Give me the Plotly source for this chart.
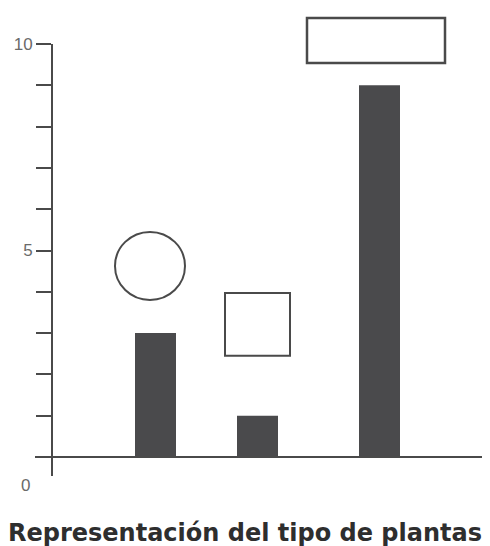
"""Representación del tipo de plantas: barras con figuras encima."""

import plotly.graph_objects as go

# Datos
bar_values = [3, 1, 9]
tick_values = list(range(0, 11))
tick_labels = ["" if v not in (5, 10) else str(v) for v in tick_values]
title_text = "Representación del tipo de plantas"

# Posiciones (en px del área de trazado) y estilos
bar_pos = [103.5, 205.5, 327.5]
BAR_W = 41
BAR_COLOR = "#4a4a4c"
LINE_COLOR = "#4a4a4a"
LABEL_COLOR = "#6a6a6a"
Y_RANGE = [-0.678, 10.872]
PLOT_W = 438

fig = go.Figure(
    go.Bar(
        x=bar_pos,
        y=bar_values,
        width=BAR_W,
        marker=dict(color=BAR_COLOR, line=dict(width=0)),
        hoverinfo="skip",
    )
)

shapes = [
    # eje vertical y eje horizontal en y=0
    dict(type="line", xref="paper", yref="y", x0=0, x1=0, y0=-0.46, y1=10,
         line=dict(color=LINE_COLOR, width=2)),
    dict(type="line", xref="paper", yref="y", x0=-17 / PLOT_W, x1=1, y0=0, y1=0,
         line=dict(color=LINE_COLOR, width=2)),
    # figuras sobre las barras
    dict(type="circle", xref="x", yref="y", x0=63, x1=133, y0=3.80, y1=5.45,
         line=dict(color=LINE_COLOR, width=2), fillcolor="rgba(0,0,0,0)"),
    dict(type="rect", xref="x", yref="y", x0=173, x1=238, y0=2.45, y1=3.97,
         line=dict(color=LINE_COLOR, width=2), fillcolor="rgba(0,0,0,0)"),
    dict(type="rect", xref="x", yref="y", x0=255, x1=393, y0=9.54, y1=10.63,
         line=dict(color=LINE_COLOR, width=2.5), fillcolor="rgba(0,0,0,0)"),
]

fig.update_layout(
    width=482,
    height=538,
    margin=dict(l=44, r=0, t=0, b=61),
    paper_bgcolor="white",
    plot_bgcolor="white",
    showlegend=False,
    shapes=shapes,
    font=dict(family="Liberation Sans, Arial, sans-serif"),
    annotations=[
        dict(text="0", xref="paper", yref="paper", x=(17 - 44) / PLOT_W, y=0,
             xanchor="center", yanchor="middle", showarrow=False,
             font=dict(size=17, color=LABEL_COLOR)),
        dict(text=f"<b>{title_text}</b>", xref="paper", yref="paper",
             x=(237 - 44) / PLOT_W, y=(477 - 525) / 477,
             xanchor="center", yanchor="middle", showarrow=False,
             font=dict(family="DejaVu Sans", size=24, color="#2e2e2e")),
    ],
)
fig.update_xaxes(range=[0, PLOT_W], visible=False, fixedrange=True)
fig.update_yaxes(
    range=Y_RANGE,
    tickvals=tick_values,
    ticktext=tick_labels,
    ticks="outside",
    ticklen=15,
    tickwidth=2,
    tickcolor=LINE_COLOR,
    tickfont=dict(size=17, color=LABEL_COLOR),
    showgrid=False,
    zeroline=False,
    showline=False,
    fixedrange=True,
)

fig.write_html("out.html")
